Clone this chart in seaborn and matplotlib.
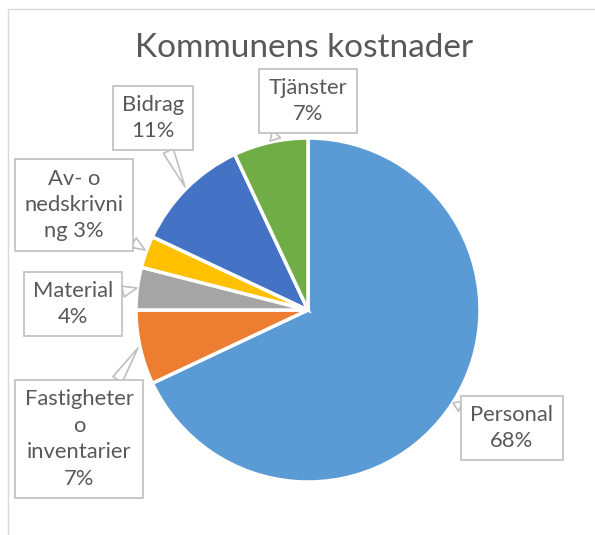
import numpy as np
import pandas as pd
import seaborn as sns
from matplotlib import pyplot as plt
from matplotlib.patches import Rectangle

# data (clockwise from 12 o'clock)
categories = ["Personal", "Fastigheter o inventarier", "Material",
              "Av- o nedskrivning", "Bidrag", "Tjänster"]
values = [68, 7, 4, 3, 11, 7]
label_texts = ["Personal\n68%", "Fastigheter\no\ninventarier\n7%", "Material\n4%",
               "Av- o\nnedskrivni\nng 3%", "Bidrag\n11%", "Tjänster\n7%"]
colors = ["#5B9BD5", "#ED7D31", "#A5A5A5", "#FFC000", "#4472C4", "#70AD47"]

# label box centres and pointer tips, in picture pixels
box_px = [(512, 428), (79, 439), (73, 304), (74, 205), (153, 118), (308, 101)]
tip_px = [(453, 403), (138, 348), (137, 288), (145, 250), (185, 187), (270, 141)]

W, H = 595, 535
cx, cy, r = 308, 310, 172

def px(p):
    return ((p[0] - cx) / r, (cy - p[1]) / r)

sns.set_theme(style="white")
plt.rcParams['font.family'] = ['Lato', 'DejaVu Sans']

fig = plt.figure(figsize=(W / 100, H / 100), dpi=100)
ax = fig.add_axes([0, 0, 1, 1])
ax.pie(values, colors=colors, startangle=90, counterclock=False, radius=1,
       wedgeprops=dict(edgecolor="white", linewidth=2.5))
ax.set_xlim(-cx / r, (W - cx) / r)
ax.set_ylim((cy - H) / r, cy / r)
ax.set_aspect("auto")
ax.axis("off")

# outer chart border
fig.patches.append(Rectangle((8 / W, -0.1), 1.2, 1 - 9 / H + 0.1, transform=fig.transFigure,
                             fill=False, edgecolor="#D9D9D9", linewidth=1, clip_on=False))

fig.text(304 / W, 1 - 48 / H, "Kommunens kostnader", ha="center", va="center",
         fontsize=24, color="#595959")

for txt, b, t in zip(label_texts, box_px, tip_px):
    ax.annotate(txt, xy=px(t), xytext=px(b), ha="center", va="center",
                fontsize=15.8, color="#595959", linespacing=1.4,
                bbox=dict(boxstyle="square,pad=0.42", fc="white", ec="#BFBFBF", lw=1.2),
                arrowprops=dict(arrowstyle="wedge,tail_width=0.5,shrink_factor=0.5",
                                fc="white", ec="#BFBFBF", lw=1.2, shrinkA=0, shrinkB=0))

fig.savefig("out.png", dpi=100)
